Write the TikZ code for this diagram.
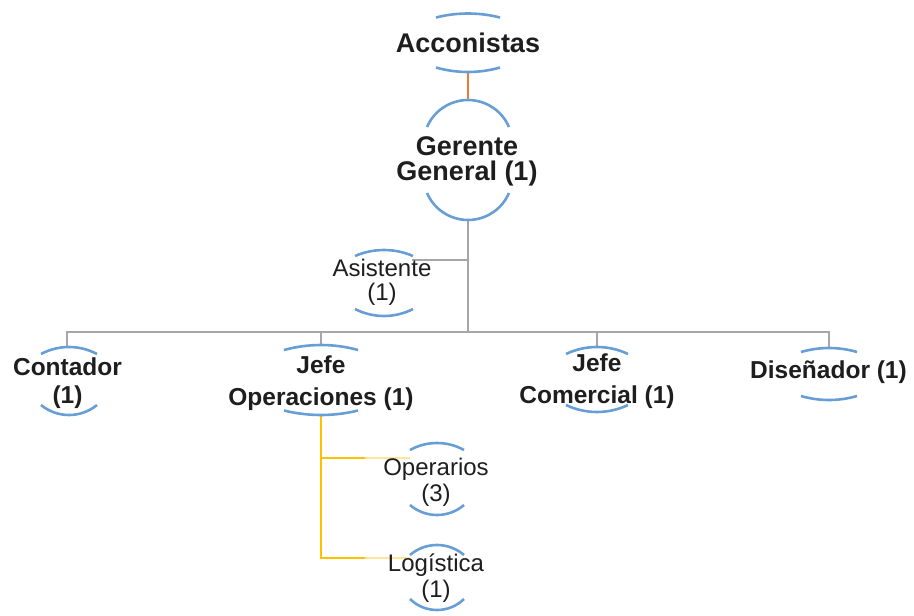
\documentclass[tikz,border=0pt]{standalone}
\usepackage{fontspec}
\setmainfont{Liberation Sans}
\definecolor{arcblue}{RGB}{104,158,214}
\definecolor{linegray}{RGB}{166,166,166}
\definecolor{lineorange}{RGB}{237,125,49}
\definecolor{lineyellow}{RGB}{255,192,0}
\definecolor{txt}{RGB}{30,30,30}
\newcommand\arcup[4]{%
  \pgfmathsetmacro\rr{(#3*#3+#4*#4)/(2*#4)}%
  \pgfmathsetmacro\ha{asin(#3/\rr)}%
  \draw[arcline] (#1-#3,#2+#4) arc[start angle=270-\ha,end angle=270+\ha,radius=\rr];}
\newcommand\arcdown[4]{%
  \pgfmathsetmacro\rr{(#3*#3+#4*#4)/(2*#4)}%
  \pgfmathsetmacro\ha{asin(#3/\rr)}%
  \draw[arcline] (#1-#3,#2-#4) arc[start angle=90+\ha,end angle=90-\ha,radius=\rr];}
\begin{document}
\begin{tikzpicture}[x=1pt,y=-1pt,
  arcline/.style={draw=arcblue,line width=2.6pt},
  grayline/.style={draw=linegray,line width=2.8pt},
  orangeline/.style={draw=lineorange,line width=2.8pt},
  yelline/.style={draw=lineyellow,line width=2.8pt},
  yelfade/.style={draw=lineyellow!40,line width=2.8pt},
  lbl/.style={align=center,inner sep=0pt,text=txt},
  bigbold/.style={lbl,font=\bfseries\fontsize{27}{25.7}\selectfont},
  midbold/.style={lbl,font=\bfseries\fontsize{24.5}{#1}\selectfont},
  midbold/.default=29,
  reglbl/.style={lbl,font=\fontsize{24}{#1}\selectfont},
  reglbl/.default=26]
\useasboundingbox (0,0) rectangle (914,616);

% connection points
\coordinate (acc-b) at (468,72);
\coordinate (gg-t) at (468,100);
\coordinate (gg-b) at (468,220);
\coordinate (gg-asis) at (468,260);
\coordinate (gg-bus) at (468,332);
\coordinate (asis-e) at (412,260);
\coordinate (cont-t) at (67,347);
\coordinate (jo-t) at (321,345);
\coordinate (jo-b) at (321,415);
\coordinate (jc-t) at (597,347);
\coordinate (dis-t) at (829,348);
\coordinate (op-f) at (365,458);
\coordinate (op-w) at (410,458);
\coordinate (log-f) at (365,558);
\coordinate (log-w) at (410,558);

% connectors
\draw[orangeline] (acc-b) -- (gg-t);
\draw[grayline] (gg-b) -- (gg-bus);
\draw[grayline] (gg-asis) -- (asis-e);
\draw[grayline] (cont-t) -- (cont-t |- gg-bus) -- (dis-t |- gg-bus) -- (dis-t);
\draw[grayline] (jo-t |- gg-bus) -- (jo-t);
\draw[grayline] (jc-t |- gg-bus) -- (jc-t);
\draw[yelline] (jo-b) -- (jo-b |- log-w) -- (log-f);
\draw[yelline] (jo-b |- op-w) -- (op-f);
\draw[yelfade] (op-f) -- (op-w);
\draw[yelfade] (log-f) -- (log-w);

% arcs
\arcup{468}{13.5}{32}{4}   \arcdown{468}{72}{32}{4.5}
\arcup{468}{100}{41}{27}   \arcdown{468}{220}{41}{27}
\arcup{384}{250}{29}{6}    \arcdown{384}{316}{29}{7}
\arcup{69}{347}{28}{7}     \arcdown{69}{415}{28}{10}
\arcup{321}{345}{37}{5}    \arcdown{321}{415}{37}{4.5}
\arcup{597}{347}{31}{7}    \arcdown{597}{412}{31}{7}
\arcup{829}{348}{28}{4}    \arcdown{829}{400}{28}{4}
\arcup{437}{443}{27}{7}    \arcdown{437}{515}{27}{10}
\arcup{437}{545}{27}{10}   \arcdown{437}{610}{27}{11}

% labels
\node[bigbold] (acc) at (468,43) {Acconistas};
\node[bigbold] (gg) at (467,161.5) {Gerente\\General (1)};
\node[reglbl=24.5] (asis) at (382,282.5) {Asistente\\(1)};
\node[midbold=28] (cont) at (67.5,383.5) {Contador\\(1)};
\node[midbold=32] (jo) at (321,383) {Jefe\\Operaciones (1)};
\node[midbold=32] (jc) at (597,381) {Jefe\\Comercial (1)};
\node[midbold] (dis) at (828.5,372.5) {Diseñador (1)};
\node[reglbl=26] (op) at (436,482.5) {Operarios\\(3)};
\node[reglbl=26] (log) at (436,578) {Logística\\(1)};
\end{tikzpicture}
\end{document}
